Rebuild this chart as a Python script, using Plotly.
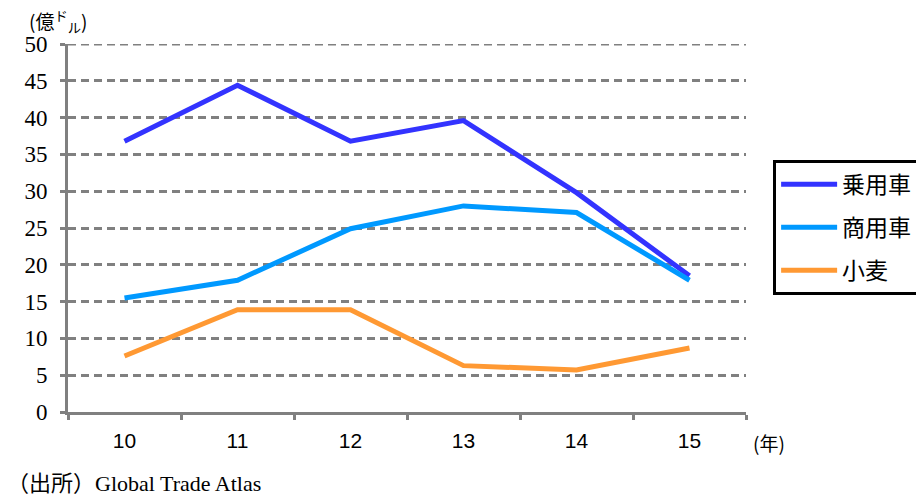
import plotly.graph_objects as go

# Export values by year (hundred million dollars)
years = ["10", "11", "12", "13", "14", "15"]
passenger_cars = [36.8, 44.4, 36.8, 39.6, 29.8, 18.5]
commercial_vehicles = [15.5, 17.9, 24.9, 28.0, 27.1, 17.9]
wheat = [7.6, 13.9, 13.9, 6.3, 5.7, 8.7]

series_names = ["乗用車", "商用車", "小麦"]
series_colors = ["#3333FF", "#0099FF", "#FF9933"]
y_ticks = [0, 5, 10, 15, 20, 25, 30, 35, 40, 45, 50]
y_max = 50

sans = "Liberation Sans, Arial, Noto Sans CJK JP, sans-serif"
serif = "Liberation Serif, Times New Roman, serif"
cjk = "Noto Sans CJK JP, sans-serif"

fig = go.Figure()
for name, vals, color in zip(series_names,
                             [passenger_cars, commercial_vehicles, wheat],
                             series_colors):
    fig.add_trace(go.Scatter(
        x=years, y=vals, name=name, mode="lines",
        line=dict(color=color, width=5),
        legendgroup=name,
    ))

# dashed gridline along the top of the value range
fig.add_shape(type="line", xref="paper", yref="y", x0=0, x1=1, y0=y_max, y1=y_max,
              line=dict(color="#808080", width=3, dash="8px,5px"), layer="below")

fig.update_layout(
    width=916, height=496,
    margin=dict(l=68, r=170, t=44, b=84, autoexpand=False),
    paper_bgcolor="white", plot_bgcolor="white",
    showlegend=True,
    legend=dict(
        x=1.04, y=0.685, xanchor="left", yanchor="top",
        bordercolor="black", borderwidth=3,
        font=dict(family=cjk, size=23, color="black"),
        tracegroupgap=10,
        itemwidth=56,
    ),
    xaxis=dict(
        type="category",
        tickson="boundaries",
        ticks="outside", ticklen=5, tickwidth=3, tickcolor="#808080",
        showline=True, linecolor="#808080", linewidth=3,
        showgrid=False,
        tickfont=dict(family=sans, size=21, color="black"),
        ticklabelstandoff=8,
        range=[-0.5, 5.5],
    ),
    yaxis=dict(
        range=[0, y_max],
        tickvals=y_ticks,
        ticks="outside", ticklen=5, tickwidth=3, tickcolor="#808080",
        showline=True, linecolor="#808080", linewidth=3,
        showgrid=True, gridcolor="#808080", gridwidth=3,
        griddash="8px,5px",
        zeroline=False,
        tickfont=dict(family=serif, size=23, color="black"),
        ticklabelstandoff=8,
    ),
    annotations=[
        dict(text="(億<sup>ド</sup><sub>ル</sub>)",
             xref="paper", yref="paper", x=-0.06, y=1.0, yshift=23,
             xanchor="left", yanchor="middle", showarrow=False,
             font=dict(family=cjk, size=19, color="black")),
        dict(text="(年)",
             xref="paper", yref="paper", x=1.0, y=0, yshift=-30, xshift=5,
             xanchor="left", yanchor="middle", showarrow=False,
             font=dict(family=cjk, size=19, color="black")),
        dict(text="<span style='font-family:Noto Sans CJK JP'>（出所）</span>Global Trade Atlas",
             xref="paper", yref="paper", x=-0.1, y=0, yshift=-69, xshift=5,
             xanchor="left", yanchor="middle", showarrow=False,
             font=dict(family=serif, size=22, color="black")),
    ],
)

fig.write_html("out.html")
